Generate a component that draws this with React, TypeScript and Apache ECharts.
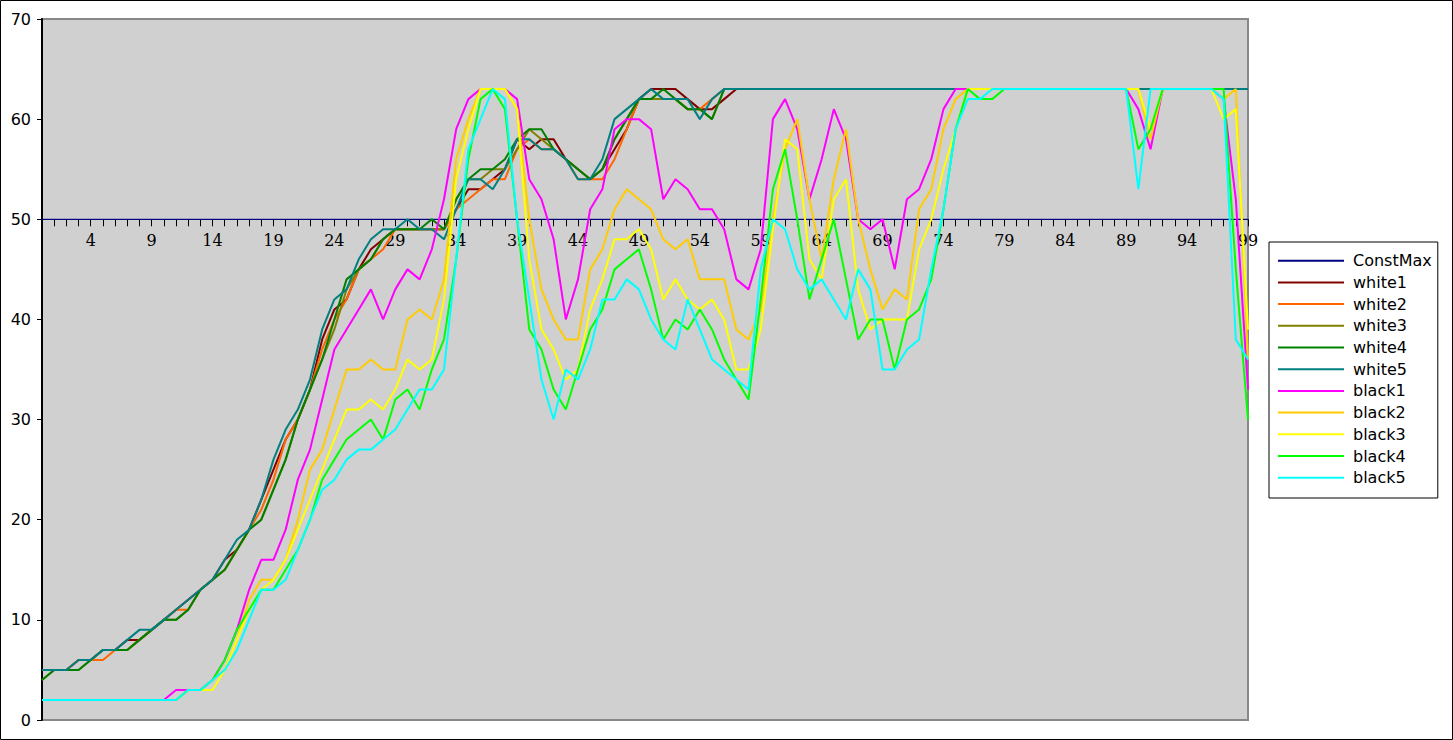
import React, { useEffect, useRef } from "react";
import * as echarts from "echarts";

const categories = [
  0, 1, 2, 3, 4, 5, 6, 7, 8, 9, 10, 11, 12, 13, 14, 15, 16, 17, 18, 19,
  20, 21, 22, 23, 24, 25, 26, 27, 28, 29, 30, 31, 32, 33, 34, 35, 36, 37, 38, 39,
  40, 41, 42, 43, 44, 45, 46, 47, 48, 49, 50, 51, 52, 53, 54, 55, 56, 57, 58, 59,
  60, 61, 62, 63, 64, 65, 66, 67, 68, 69, 70, 71, 72, 73, 74, 75, 76, 77, 78, 79,
  80, 81, 82, 83, 84, 85, 86, 87, 88, 89, 90, 91, 92, 93, 94, 95, 96, 97, 98, 99,
];
const shownXLabels = [4, 9, 14, 19, 24, 29, 34, 39, 44, 49, 54, 59, 64, 69, 74, 79, 84, 89, 94, 99];

const constMax = [
  50, 50, 50, 50, 50, 50, 50, 50, 50, 50, 50, 50, 50, 50, 50, 50, 50, 50, 50, 50,
  50, 50, 50, 50, 50, 50, 50, 50, 50, 50, 50, 50, 50, 50, 50, 50, 50, 50, 50, 50,
  50, 50, 50, 50, 50, 50, 50, 50, 50, 50, 50, 50, 50, 50, 50, 50, 50, 50, 50, 50,
  50, 50, 50, 50, 50, 50, 50, 50, 50, 50, 50, 50, 50, 50, 50, 50, 50, 50, 50, 50,
  50, 50, 50, 50, 50, 50, 50, 50, 50, 50, 50, 50, 50, 50, 50, 50, 50, 50, 50, 50,
];
const white1 = [
  5, 5, 5, 6, 6, 7, 7, 8, 8, 9, 10, 11, 12, 13, 14, 16, 17, 19, 22, 25,
  28, 30, 33, 38, 41, 42, 45, 47, 48, 49, 49, 49, 49, 49, 51, 53, 53, 54, 55, 58,
  57, 58, 58, 56, 55, 54, 55, 57, 59, 62, 63, 63, 63, 62, 61, 61, 62, 63, 63, 63,
  63, 63, 63, 63, 63, 63, 63, 63, 63, 63, 63, 63, 63, 63, 63, 63, 63, 63, 63, 63,
  63, 63, 63, 63, 63, 63, 63, 63, 63, 63, 63, 63, 63, 63, 63, 63, 63, 63, 63, 63,
];
const white2 = [
  5, 5, 5, 6, 6, 6, 7, 7, 8, 9, 10, 11, 11, 13, 14, 15, 17, 19, 21, 24,
  28, 30, 33, 37, 40, 42, 45, 46, 47, 49, 49, 49, 49, 49, 51, 52, 53, 54, 54, 57,
  58, 57, 57, 56, 54, 54, 54, 56, 59, 62, 62, 62, 62, 61, 61, 62, 63, 63, 63, 63,
  63, 63, 63, 63, 63, 63, 63, 63, 63, 63, 63, 63, 63, 63, 63, 63, 63, 63, 63, 63,
  63, 63, 63, 63, 63, 63, 63, 63, 63, 63, 63, 63, 63, 63, 63, 63, 63, 63, 63, 63,
];
const white3 = [
  4, 5, 5, 5, 6, 7, 7, 7, 8, 9, 10, 10, 11, 13, 14, 15, 17, 19, 20, 23,
  26, 30, 33, 36, 39, 43, 45, 46, 48, 49, 49, 49, 49, 49, 52, 54, 54, 55, 55, 57,
  59, 58, 57, 56, 55, 54, 55, 58, 60, 62, 62, 62, 62, 61, 61, 60, 63, 63, 63, 63,
  63, 63, 63, 63, 63, 63, 63, 63, 63, 63, 63, 63, 63, 63, 63, 63, 63, 63, 63, 63,
  63, 63, 63, 63, 63, 63, 63, 63, 63, 63, 63, 63, 63, 63, 63, 63, 63, 63, 63, 63,
];
const white4 = [
  4, 5, 5, 5, 6, 7, 7, 7, 8, 9, 10, 10, 11, 13, 14, 15, 17, 19, 20, 23,
  26, 30, 33, 36, 40, 44, 45, 46, 48, 49, 49, 49, 50, 49, 52, 54, 55, 55, 56, 58,
  59, 59, 57, 56, 55, 54, 55, 58, 60, 62, 62, 63, 62, 61, 61, 60, 63, 63, 63, 63,
  63, 63, 63, 63, 63, 63, 63, 63, 63, 63, 63, 63, 63, 63, 63, 63, 63, 63, 63, 63,
  63, 63, 63, 63, 63, 63, 63, 63, 63, 63, 63, 63, 63, 63, 63, 63, 63, 63, 63, 63,
];
const white5 = [
  5, 5, 5, 6, 6, 7, 7, 8, 9, 9, 10, 11, 12, 13, 14, 16, 18, 19, 22, 26,
  29, 31, 34, 39, 42, 43, 46, 48, 49, 49, 50, 49, 49, 48, 51, 54, 54, 53, 55, 58,
  58, 57, 57, 56, 54, 54, 56, 60, 61, 62, 63, 62, 62, 62, 60, 62, 63, 63, 63, 63,
  63, 63, 63, 63, 63, 63, 63, 63, 63, 63, 63, 63, 63, 63, 63, 63, 63, 63, 63, 63,
  63, 63, 63, 63, 63, 63, 63, 63, 63, 63, 63, 63, 63, 63, 63, 63, 63, 63, 63, 63,
];
const black1 = [
  2, 2, 2, 2, 2, 2, 2, 2, 2, 2, 2, 3, 3, 3, 4, 6, 9, 13, 16, 16,
  19, 24, 27, 32, 37, 39, 41, 43, 40, 43, 45, 44, 47, 52, 59, 62, 63, 63, 63, 62,
  54, 52, 48, 40, 44, 51, 53, 59, 60, 60, 59, 52, 54, 53, 51, 51, 49, 44, 43, 47,
  60, 62, 59, 52, 56, 61, 58, 50, 49, 50, 45, 52, 53, 56, 61, 63, 63, 63, 63, 63,
  63, 63, 63, 63, 63, 63, 63, 63, 63, 63, 61, 57, 63, 63, 63, 63, 63, 62, 52, 33,
];
const black2 = [
  2, 2, 2, 2, 2, 2, 2, 2, 2, 2, 2, 2, 3, 3, 4, 5, 8, 12, 14, 14,
  16, 20, 25, 27, 31, 35, 35, 36, 35, 35, 40, 41, 40, 44, 56, 60, 63, 63, 63, 61,
  50, 43, 40, 38, 38, 45, 47, 51, 53, 52, 51, 48, 47, 48, 44, 44, 44, 39, 38, 41,
  50, 57, 60, 52, 46, 54, 59, 50, 45, 41, 43, 42, 51, 53, 59, 62, 63, 63, 63, 63,
  63, 63, 63, 63, 63, 63, 63, 63, 63, 63, 63, 58, 63, 63, 63, 63, 63, 62, 63, 36,
];
const black3 = [
  2, 2, 2, 2, 2, 2, 2, 2, 2, 2, 2, 2, 3, 3, 3, 5, 8, 11, 13, 14,
  16, 19, 22, 25, 28, 31, 31, 32, 31, 33, 36, 35, 36, 42, 54, 59, 63, 63, 63, 61,
  46, 39, 37, 34, 35, 41, 44, 48, 48, 49, 47, 42, 44, 42, 41, 42, 40, 35, 35, 39,
  49, 58, 57, 46, 44, 52, 54, 43, 39, 40, 40, 40, 47, 50, 55, 59, 63, 63, 63, 63,
  63, 63, 63, 63, 63, 63, 63, 63, 63, 63, 63, 59, 63, 63, 63, 63, 63, 60, 61, 39,
];
const black4 = [
  2, 2, 2, 2, 2, 2, 2, 2, 2, 2, 2, 2, 3, 3, 4, 6, 9, 11, 13, 13,
  15, 17, 20, 24, 26, 28, 29, 30, 28, 32, 33, 31, 35, 38, 46, 56, 62, 63, 61, 50,
  39, 37, 33, 31, 35, 39, 41, 45, 46, 47, 43, 38, 40, 39, 41, 39, 36, 34, 32, 42,
  53, 57, 50, 42, 46, 50, 44, 38, 40, 40, 35, 40, 41, 44, 51, 59, 63, 62, 62, 63,
  63, 63, 63, 63, 63, 63, 63, 63, 63, 63, 57, 59, 63, 63, 63, 63, 63, 63, 45, 30,
];
const black5 = [
  2, 2, 2, 2, 2, 2, 2, 2, 2, 2, 2, 2, 3, 3, 4, 5, 7, 10, 13, 13,
  14, 17, 20, 23, 24, 26, 27, 27, 28, 29, 31, 33, 33, 35, 46, 57, 60, 63, 62, 50,
  42, 34, 30, 35, 34, 37, 42, 42, 44, 43, 40, 38, 37, 42, 39, 36, 35, 34, 33, 45,
  50, 49, 45, 43, 44, 42, 40, 45, 43, 35, 35, 37, 38, 45, 51, 59, 62, 62, 63, 63,
  63, 63, 63, 63, 63, 63, 63, 63, 63, 63, 53, 63, 63, 63, 63, 63, 63, 62, 38, 36,
];

const seriesNames = ["ConstMax", "white1", "white2", "white3", "white4", "white5", "black1", "black2", "black3", "black4", "black5"];
const seriesData = [constMax, white1, white2, white3, white4, white5, black1, black2, black3, black4, black5];
const seriesColors = ["#000080", "#800000", "#ff6600", "#808000", "#008000", "#008080", "#ff00ff", "#ffcc00", "#ffff00", "#00ff00", "#00ffff"];

export default function App() {
  const ref = useRef<HTMLDivElement>(null);
  useEffect(() => {
    document.body.style.margin = "0";
    const chart = echarts.init(ref.current as HTMLDivElement, null, { renderer: "svg" });
    const top = 19;
    const bottom = 20;
    const plotH = 740 - top - bottom;
    const upperH = (plotH * 20) / 70;
    chart.setOption({
      animation: false,
      backgroundColor: "#ffffff",
      textStyle: { fontFamily: "DejaVu Sans" },
      grid: [
        {
          left: 42,
          right: 205,
          top,
          bottom,
          show: true,
          backgroundColor: "#d0d0d0",
          borderColor: "#888888",
          borderWidth: 2,
          containLabel: false,
          outerBoundsMode: "none",
        },
        {
          left: 42,
          right: 205,
          top,
          bottom: 740 - top - upperH,
          show: false,
          containLabel: false,
          outerBoundsMode: "none",
        },
      ],
      xAxis: [
        {
          type: "category",
          gridIndex: 0,
          data: categories.map(String),
          boundaryGap: false,
          show: false,
        },
        {
          type: "category",
          gridIndex: 1,
          data: categories.map(String),
          boundaryGap: false,
          position: "bottom",
          z: 1,
          axisLine: { show: true, onZero: false, lineStyle: { color: "#000080", width: 1 } },
          axisTick: { show: true, interval: 0, length: 7, lineStyle: { color: "#000000", width: 1 } },
          axisLabel: {
            interval: (index: number) => shownXLabels.indexOf(categories[index]) >= 0,
            margin: 13,
            fontSize: 16,
            fontFamily: "DejaVu Serif",
            color: "#000000",
          },
          splitLine: { show: false },
        },
      ],
      yAxis: [
        {
          type: "value",
          gridIndex: 0,
          min: 0,
          max: 70,
          interval: 10,
          axisLine: { show: true, lineStyle: { color: "#000000", width: 2 } },
          axisTick: { show: true, length: 5, lineStyle: { color: "#000000", width: 1 } },
          axisLabel: { margin: 11, fontSize: 16, fontFamily: "DejaVu Sans", color: "#000000" },
          splitLine: { show: false },
        },
        {
          type: "value",
          gridIndex: 1,
          min: 50,
          max: 70,
          interval: 10,
          show: false,
        },
      ],
      legend: {
        orient: "vertical",
        left: 1269,
        top: 242,
        itemWidth: 66,
        itemHeight: 14,
        itemGap: 5.7,
        padding: [10.7, 6, 12.3, 8],
        borderColor: "#000000",
        borderWidth: 1,
        backgroundColor: "#ffffff",
        selectedMode: false,
        itemStyle: { opacity: 0 },
        textStyle: { fontSize: 16, fontFamily: "DejaVu Sans", color: "#000000", padding: [0, 0, 0, 4] },
        data: seriesNames,
      },
      graphic: [
        {
          type: "rect",
          shape: { x: 0.5, y: 0.5, width: 1452, height: 739 },
          style: { fill: "none", stroke: "#000000", lineWidth: 1 },
          silent: true,
          z: 100,
        },
      ],
      series: seriesNames.map((name, k) => ({
        name,
        type: "line",
        xAxisIndex: 0,
        yAxisIndex: 0,
        data: seriesData[k],
        symbol: "none",
        color: seriesColors[k],
        lineStyle: { color: seriesColors[k], width: k === 0 ? 1 : 2 },
        emphasis: { disabled: true },
        silent: true,
      })),
    });
    return () => chart.dispose();
  }, []);
  return (
    <div
      ref={ref}
      style={{ position: "absolute", left: 0, top: 0, width: 1453, height: 740, background: "#ffffff" }}
    />
  );
}
